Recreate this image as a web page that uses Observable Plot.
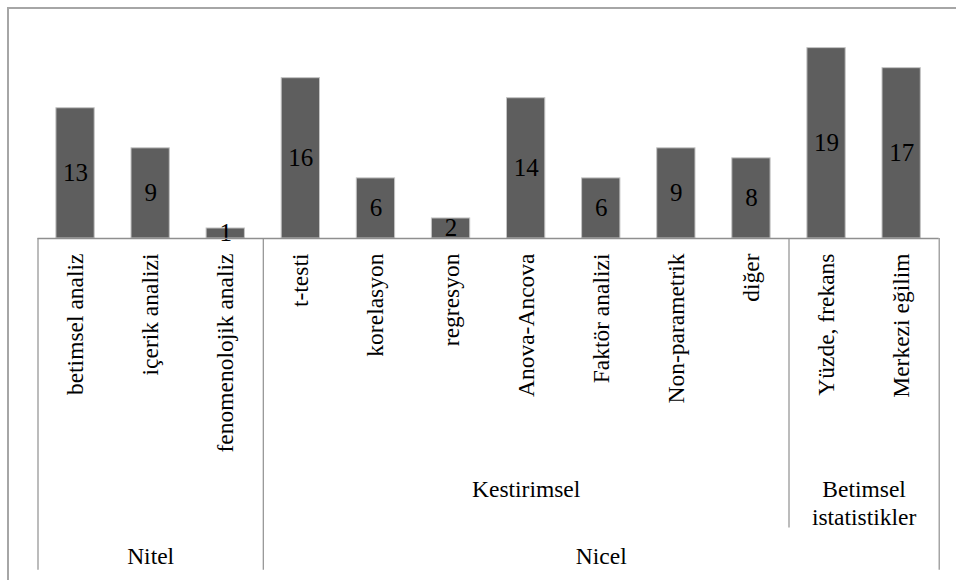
<!DOCTYPE html>
<html>
<head>
<meta charset="utf-8">
<script src="https://cdn.jsdelivr.net/npm/d3@7"></script>
<script src="https://cdn.jsdelivr.net/npm/@observablehq/plot@0.6"></script>
<style>
  @font-face { font-family: "ChartSerif"; src: local("Liberation Serif"), local("LiberationSerif"), local("LiberationSerif-Regular"), local("Tinos"), local("DejaVu Serif"), local("DejaVuSerif"); }
  html, body { margin: 0; padding: 0; background: #fff; overflow: hidden; }
  #wrap { position: relative; width: 956px; height: 580px; }
  #wrap svg { position: absolute; left: 0; top: 0; overflow: visible; }
  #wrap svg text { font-family: "Liberation Serif", "ChartSerif", "Times New Roman", serif !important; }
  #border { position: absolute; left: 7px; top: 7px; width: 1200px; height: 1200px;
            border-left: 2px solid #a6a6a6; border-top: 2px solid #a6a6a6; pointer-events: none; }
</style>
</head>
<body>
<div id="wrap"><div id="border"></div></div>
<script>
// ---- data ----
const categories = ["betimsel analiz", "içerik analizi", "fenomenolojik analiz", "t-testi", "korelasyon",
  "regresyon", "Anova-Ancova", "Faktör analizi", "Non-parametrik", "diğer", "Yüzde, frekans", "Merkezi eğilim"];
const values = [13, 9, 1, 16, 6, 2, 14, 6, 9, 8, 19, 17];
const subgroupOf = ["", "", "", "Kestirimsel", "Kestirimsel", "Kestirimsel", "Kestirimsel", "Kestirimsel",
  "Kestirimsel", "Kestirimsel", "Betimsel\nistatistikler", "Betimsel\nistatistikler"];
const groupOf = ["Nitel", "Nitel", "Nitel", "Nicel", "Nicel", "Nicel", "Nicel", "Nicel", "Nicel", "Nicel", "Nicel", "Nicel"];

// ---- derived table ----
const table = categories.map((c, i) => ({c, v: values[i], i}));
function spans(keys) {
  const out = [];
  keys.forEach((k, i) => {
    const last = out[out.length - 1];
    if (last && last.label === k) last.end = i + 1;
    else out.push({label: k, start: i, end: i + 1});
  });
  return out;
}
const subSpans = spans(subgroupOf);
const grpSpans = spans(groupOf);
const grpBounds = Array.from(new Set(grpSpans.flatMap(d => [d.start, d.end])));
const subBounds = Array.from(new Set(subSpans.flatMap(d => [d.start, d.end]))).filter(b => !grpBounds.includes(b));

const lineCol = "#8f8f8f";
const fsCat = 23.5;

const chart = Plot.plot({
  width: 956,
  height: 580,
  marginLeft: 0, marginRight: 0, marginTop: 0, marginBottom: 0,
  style: "background: transparent; overflow: visible;",
  x: {type: "linear", domain: [0, categories.length], range: [37.5, 938.7], axis: null},
  y: {domain: [0, 20], range: [238, 37.6], axis: null},
  marks: [
    Plot.rectY(table, {x1: "i", x2: d => d.i + 1, y: "v", insetLeft: 18.4, insetRight: 18.4,
      fill: "#5e5e5e", stroke: "#c4c4c4", strokeWidth: 1}),
    Plot.text(table, {x: d => d.i + 0.5, y: d => d.v / 2, text: d => String(d.v),
      fontSize: 25, fill: "#000"}),
    Plot.ruleY([0], {x1: 0, x2: categories.length, stroke: lineCol, strokeWidth: 1.3}),
    Plot.ruleX(grpBounds, {x: d => d, y1: 0, y2: -33.1, stroke: lineCol, strokeWidth: 1.2}),
    Plot.ruleX(subBounds, {x: d => d, y1: 0, y2: -28.9, stroke: lineCol, strokeWidth: 1.2}),
    Plot.text(table, {x: d => d.i + 0.5, y: 0, text: "c", rotate: -90, textAnchor: "end",
      lineAnchor: "middle", dy: 15, fontSize: fsCat, fill: "#000"}),
    Plot.text(subSpans.filter(d => d.label), {x: d => (d.start + d.end) / 2, y: 0, text: "label",
      lineAnchor: "top", lineHeight: 1.18, dy: 238.6, fontSize: fsCat, fill: "#000"}),
    Plot.text(grpSpans, {x: d => (d.start + d.end) / 2, y: 0, text: "label",
      lineAnchor: "top", dy: 309.3, fontSize: fsCat, fill: "#000"})
  ]
});
document.getElementById("wrap").insertBefore(chart, document.getElementById("border"));
</script>
</body>
</html>
